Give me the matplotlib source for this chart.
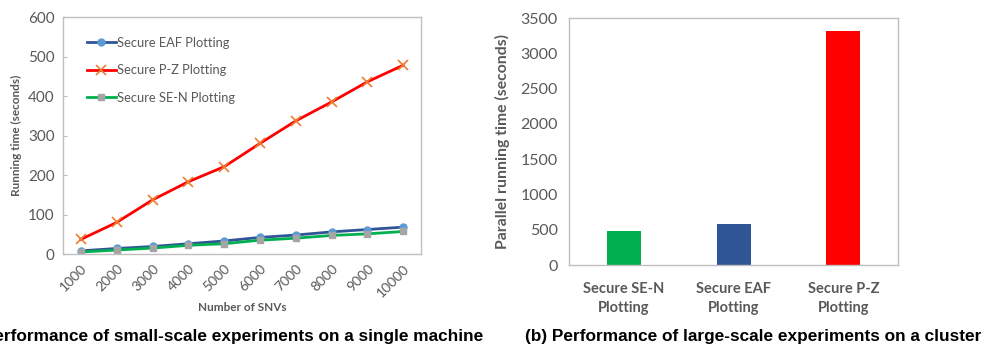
import matplotlib
matplotlib.use('Agg')
import matplotlib.pyplot as plt
import numpy as np

# ── Data ──────────────────────────────────────────────────────────────────────
snvs     = [1000, 2000, 3000, 4000, 5000, 6000, 7000, 8000, 9000, 10000]
eaf_time = [8, 14, 19, 26, 33, 42, 48, 56, 62, 68]
pz_time  = [37, 80, 137, 183, 221, 280, 337, 385, 436, 478]
sen_time = [5, 10, 15, 22, 26, 35, 40, 47, 51, 57]

bar_labels = ['Secure SE-N\nPlotting', 'Secure EAF\nPlotting', 'Secure P-Z\nPlotting']
bar_values = [481, 580, 3311]

# ── Style ─────────────────────────────────────────────────────────────────────
GRAY_TXT = '#595959'
SPINE    = '#BFBFBF'
FONT     = 'Lato'

fig = plt.figure(figsize=(9.84, 3.47), dpi=100)

# ── (a) line chart ────────────────────────────────────────────────────────────
ax1 = fig.add_axes([0.064, 0.268, 0.364, 0.683])
x = np.arange(len(snvs))
ax1.plot(x, eaf_time, color='#2F5597', lw=2, marker='o', ms=5,
         mfc='#5B9BD5', mec='#5B9BD5', label='Secure EAF Plotting')
ax1.plot(x, pz_time, color='#FF0000', lw=2, marker='x', ms=7, mew=1.2,
         mec='#ED7D31', label='Secure P-Z Plotting')
ax1.plot(x, sen_time, color='#00B050', lw=2, marker='s', ms=4.5,
         mfc='#A5A5A5', mec='#A5A5A5', label='Secure SE-N Plotting')

ax1.set_xlim(-0.5, len(snvs) - 0.5)
ax1.set_ylim(0, 600)
ax1.set_yticks(range(0, 601, 100))
ax1.set_xticks(x)
ax1.set_xticklabels([str(s) for s in snvs], rotation=45, ha='right',
                    rotation_mode='anchor', fontsize=10, color=GRAY_TXT, family=FONT)
for lbl in ax1.get_yticklabels():
    lbl.set_fontsize(11); lbl.set_color(GRAY_TXT); lbl.set_family(FONT)
ax1.tick_params(axis='x', length=0, pad=6)
ax1.tick_params(axis='y', direction='in', length=3, color=SPINE, pad=6)
ax1.set_xlabel('Number of SNVs', fontsize=8.5, fontweight='bold', color=GRAY_TXT,
               family=FONT, labelpad=2)
ax1.set_ylabel('Running time (seconds)', fontsize=8.5, fontweight='bold',
               color=GRAY_TXT, family=FONT, labelpad=4)
for sp in ax1.spines.values():
    sp.set_color(SPINE); sp.set_linewidth(1)

leg = ax1.legend(loc='upper left', bbox_to_anchor=(0.035, 0.965), frameon=False,
                 handlelength=2.2, handletextpad=0.1, labelspacing=1.2,
                 prop={'family': FONT, 'size': 9.3})
for t in leg.get_texts():
    t.set_color(GRAY_TXT)

# ── (b) bar chart ─────────────────────────────────────────────────────────────
ax2 = fig.add_axes([0.578, 0.236, 0.335, 0.712])
xb = np.arange(len(bar_values))
ax2.bar(xb, bar_values, width=0.31, color=['#00B050', '#2F5597', '#FF0000'])
ax2.set_xlim(-0.5, len(bar_values) - 0.5)
ax2.set_ylim(0, 3500)
ax2.set_yticks(range(0, 3501, 500))
ax2.set_xticks(xb)
ax2.set_xticklabels(bar_labels, fontsize=10.5, fontweight='bold', color=GRAY_TXT,
                    family=FONT, linespacing=1.45)
for lbl in ax2.get_yticklabels():
    lbl.set_fontsize(11.5); lbl.set_color(GRAY_TXT); lbl.set_family(FONT)
ax2.tick_params(axis='both', length=0, pad=8)
ax2.tick_params(axis='x', pad=12)
ax2.set_ylabel('Parallel running time (seconds)', fontsize=11.3, fontweight='bold',
               color=GRAY_TXT, family=FONT, labelpad=7)
for sp in ax2.spines.values():
    sp.set_color(SPINE); sp.set_linewidth(1)

# ── captions ──────────────────────────────────────────────────────────────────
fig.text(483 / 984, 1 - 336 / 347,
         '(a) Performance of small-scale experiments on a single machine',
         ha='right', va='center', fontsize=12.4, fontweight='bold',
         family='Liberation Sans')
fig.text(981 / 984, 1 - 336 / 347,
         '(b) Performance of large-scale experiments on a cluster',
         ha='right', va='center', fontsize=12.4, fontweight='bold',
         family='Liberation Sans')

fig.savefig('out.png', dpi=100)
